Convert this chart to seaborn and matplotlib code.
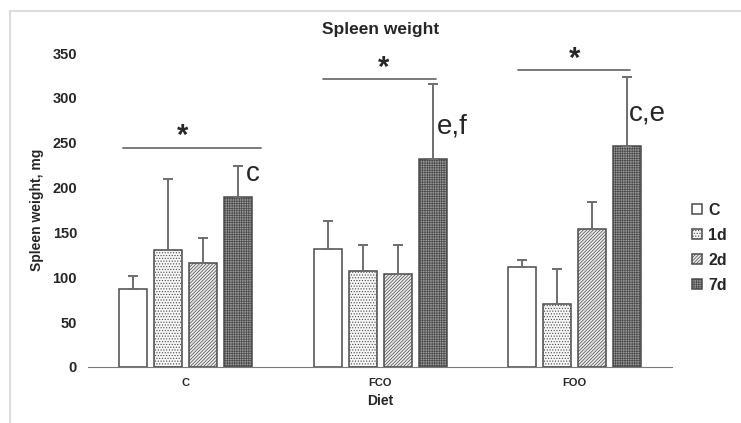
import numpy as np
import pandas as pd
import matplotlib
matplotlib.use("Agg")
import matplotlib.pyplot as plt
from matplotlib.patches import Rectangle
import seaborn as sns

# valeurs (mg)
diets = ["C", "FCO", "FOO"]
times = ["C", "1d", "2d", "7d"]
weight_C = [87, 132, 111]
weight_1d = [130, 107, 70]
weight_2d = [116, 104, 154]
weight_7d = [190, 232, 246]
sd_C = [14, 31, 8]
sd_1d = [80, 29, 39]
sd_2d = [28, 32, 30]
sd_7d = [34, 83, 77]

# barres de significativite
sig_x0 = [-0.32, 0.706, 1.706]
sig_x1 = [0.387, 1.289, 2.284]
sig_y = [244, 321, 331]
star_x = [-0.015, 1.02, 2.0]
star_y = [257, 333, 343]
letters = ["c", "e,f", "c,e"]
letter_x = [0.31, 1.29, 2.28]
letter_y = [215, 268, 283]

df = pd.DataFrame({
    "Diet": np.repeat(diets, 4),
    "Time": times * 3,
    "Weight": np.ravel(np.column_stack([weight_C, weight_1d, weight_2d, weight_7d])),
})
sd = {"C": sd_C, "1d": sd_1d, "2d": sd_2d, "7d": sd_7d}

sns.set_style("white")
plt.rcParams["font.family"] = ["Liberation Sans", "DejaVu Sans"]
plt.rcParams["hatch.linewidth"] = 0.5

fig = plt.figure(figsize=(7.41, 4.23), dpi=100)
ax = fig.add_axes([0.119, 0.1324, 0.788, 0.7423])

palette = {"C": "white", "1d": "#f6f6f6", "2d": "#ececec", "7d": "#9a9a9a"}
hatches = {"C": "", "1d": "......", "2d": "//////////", "7d": "+++++++"}

sns.barplot(data=df, x="Diet", y="Weight", hue="Time", order=diets, hue_order=times,
            palette=palette, width=0.72, gap=0.2, errorbar=None,
            edgecolor="#4a4a4a", linewidth=1.1, legend=False, ax=ax)

for t, cont in zip(times, ax.containers):
    xs = []
    for bar in cont:
        bar.set_hatch(hatches[t])
        xs.append(bar.get_x() + bar.get_width() / 2)
    heights = [b.get_height() for b in cont]
    ax.errorbar(xs, heights, yerr=[np.zeros(3), sd[t]], fmt="none",
                ecolor="#6e6e6e", elinewidth=1.4, capsize=3.5, capthick=1.4, zorder=1)

for x0, x1, y in zip(sig_x0, sig_x1, sig_y):
    ax.plot([x0, x1], [y, y], color="#6e6e6e", lw=1.3)
for x, y in zip(star_x, star_y):
    ax.text(x, y, "*", ha="center", va="center", fontsize=21, fontweight="bold")
for s, x, y in zip(letters, letter_x, letter_y):
    ax.text(x, y, s, ha="left", va="center", fontsize=20)

ax.set_ylim(0, 350)
ax.set_xlim(-0.5, 2.5)
ax.set_yticks(range(0, 351, 50))
sns.despine(ax=ax, left=True)
ax.spines["bottom"].set_color("#7a7a7a")
ax.tick_params(axis="both", length=0, pad=8)
for lab in ax.get_yticklabels():
    lab.set_fontweight("bold")
    lab.set_fontsize(10.5)
for lab in ax.get_xticklabels():
    lab.set_fontweight("bold")
    lab.set_fontsize(8)
ax.set_xlabel("Diet", fontsize=10, fontweight="bold", labelpad=4)
ax.set_ylabel("Spleen weight, mg", fontsize=10, fontweight="bold", labelpad=6)
ax.set_title("Spleen weight", fontsize=12.5, fontweight="bold", pad=14)

handles = [cont[0] for cont in ax.containers]
fig.legend(handles, times, loc="center left", bbox_to_anchor=(0.915, 0.414),
           frameon=False, handlelength=0.6, handleheight=0.6, handletextpad=0.4,
           labelspacing=0.62, prop={"weight": "bold", "size": 11.5})

fig.patches.append(Rectangle((10 / 741, -0.05), 1.0, 1 - 11 / 423 + 0.05,
                             transform=fig.transFigure, fill=False,
                             edgecolor="#dcdcdc", lw=1.5))

fig.savefig("out.png", dpi=100)
